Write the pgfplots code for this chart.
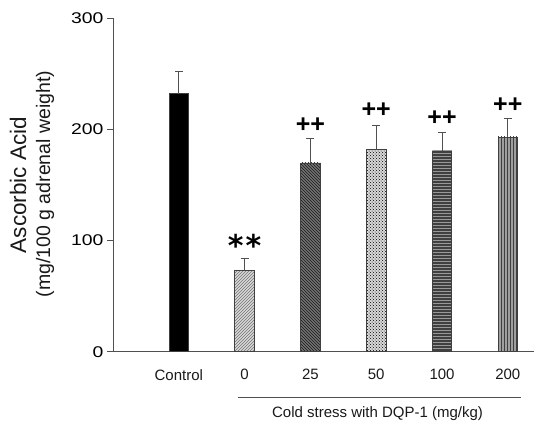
\documentclass[border=0pt]{standalone}
\usepackage{fontspec}
\setmainfont{Liberation Sans}
\newfontfamily\widesans{Liberation Sans}[FakeStretch=1.25]
\newfontfamily\dejavu{DejaVu Sans}
\usepackage{pgfplots}
\pgfplotsset{compat=1.18}
\usetikzlibrary{patterns}
\definecolor{axgray}{HTML}{505050}
\definecolor{bargray}{HTML}{404040}
\begin{document}
\begin{tikzpicture}
\useasboundingbox (0,0) rectangle (534pt,424pt);
\begin{axis}[
  at={(113pt,72.3pt)}, anchor=south west,
  scale only axis, width=421pt, height=333.4pt,
  xmin=-1, xmax=5.398, ymin=0, ymax=300,
  axis lines*=left,
  axis line style={axgray, line width=1pt},
  ytick={0,100,200,300},
  xtick={0,1,2,3,4,5},
  xticklabels={Control,0,25,50,100,200},
  tick align=outside, major tick length=6pt,
  xtick style={draw=none},
  ytick style={axgray, line width=1pt},
  yticklabel style={font=\widesans\fontsize{15.5}{18}\selectfont, text=black},
  xticklabel style={font=\fontsize{15}{18}\selectfont, text=black!90, yshift=-8pt},
  /pgf/number format/assume math mode=true,
  clip=false,
  mybar/.style={ybar, bar width=19.5pt, bar shift=0pt, draw=bargray, line width=0.9pt,
    /pgfplots/error bars/y dir=plus, /pgfplots/error bars/y explicit,
    /pgfplots/error bars/error mark=-,
    /pgfplots/error bars/error bar style={axgray, line width=1pt},
    /pgfplots/error bars/error mark options={rotate=90, axgray, line width=1pt, mark size=4pt}},
]
\addplot[mybar, fill=black] coordinates {(0,232) +- (0,20)};
\addplot[mybar, fill=gray!30, postaction={pattern=north east lines, pattern color=gray!90!black}] coordinates {(1,73.5) +- (0,10)};
\addplot[mybar, fill=black!55, postaction={pattern=north west lines, pattern color=black!90}] coordinates {(2,169.8) +- (0,21.6)};
\addplot[mybar, fill=gray!30, postaction={pattern=crosshatch dots, pattern color=black}] coordinates {(3,181.6) +- (0,22.3)};
\addplot[mybar, fill=black!75, postaction={pattern=horizontal lines, pattern color=gray!80}] coordinates {(4,180.6) +- (0,16.8)};
\addplot[mybar, fill=gray!75, postaction={pattern=vertical lines, pattern color=black!75}] coordinates {(5,193.2) +- (0,16.5)};

\node[font=\dejavu\bfseries\fontsize{30}{34}\selectfont, inner sep=0pt] at (axis cs:1,95.5) {*\kern2pt*};
\node[font=\bfseries\fontsize{25}{30}\selectfont, inner sep=0pt] at (axis cs:2,203.4) {++};
\node[font=\bfseries\fontsize{25}{30}\selectfont, inner sep=0pt] at (axis cs:3,217.4) {++};
\node[font=\bfseries\fontsize{25}{30}\selectfont, inner sep=0pt] at (axis cs:4,210.2) {++};
\node[font=\bfseries\fontsize{25}{30}\selectfont, inner sep=0pt] at (axis cs:5,221.9) {++};

\draw[axgray, line width=1pt] (axis cs:0.90,-40.8) -- (axis cs:5.20,-40.8);
\node[font=\fontsize{15}{18}\selectfont, text=black!90] at (axis cs:3.02,-55.5) {Cold stress with DQP-1 (mg/kg)};
\end{axis}
\node[rotate=90, font=\fontsize{22.5}{26}\selectfont, text=black!90] at (18pt,239pt) {Ascorbic Acid};
\node[rotate=90, font=\fontsize{19.5}{23}\selectfont, text=black!90] at (45pt,240pt) {(mg/100 g adrenal weight)};
\end{tikzpicture}
\end{document}
